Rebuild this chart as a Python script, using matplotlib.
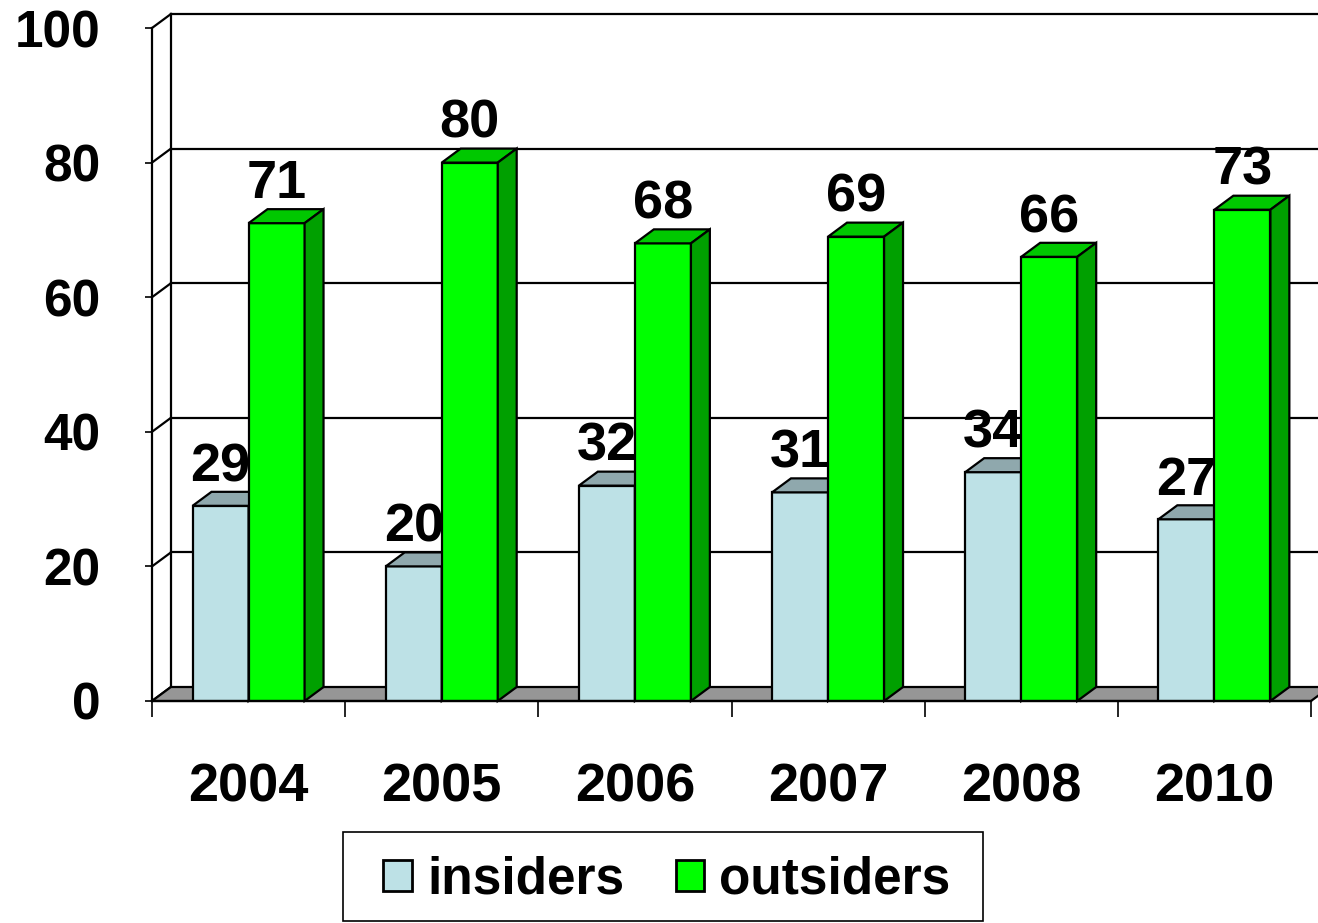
import numpy as np
import matplotlib
matplotlib.use("Agg")
import matplotlib.pyplot as plt
from matplotlib.patches import Polygon, Patch, Rectangle

# data
years = ["2004", "2005", "2006", "2007", "2008", "2010"]
insiders = [29, 20, 32, 31, 34, 27]
outsiders = [71, 80, 68, 69, 66, 73]
y_ticks = [0, 20, 40, 60, 80, 100]

# colours
ins_front, ins_top, ins_side = "#BDE1E6", "#8FA8AD", "#7F9A9E"
out_front, out_top, out_side = "#00FF00", "#00C800", "#00A000"
floor_col = "#969696"

plt.rcParams["font.family"] = ["Liberation Sans", "DejaVu Sans"]
plt.rcParams["font.weight"] = "bold"

fig = plt.figure(figsize=(13.18, 9.23), dpi=100)
ax = fig.add_axes([152 / 1318, 222 / 923, 1159 / 1318, 673 / 923])
ax.set_xlim(-0.5, 5.5)
ax.set_ylim(0, 100)

# depth of the 3d effect in data units
dx, dy = 0.098, 2.08
bw = 0.29
n = len(years)
lw = 1.6

# floor
ax.add_patch(Polygon([(-0.5, 0), (5.5, 0), (5.5 + dx, dy), (-0.5 + dx, dy)],
                     closed=True, facecolor=floor_col, edgecolor="black",
                     lw=lw, clip_on=False, zorder=1))

# back wall grid and left wall
for v in y_ticks[1:]:
    ax.plot([-0.5 + dx, 5.5 + dx + 0.2], [v + dy, v + dy], color="black",
            lw=lw, clip_on=False, zorder=0.5)
for v in y_ticks:
    ax.plot([-0.5, -0.5 + dx], [v, v + dy], color="black", lw=lw,
            clip_on=False, zorder=0.5)
ax.plot([-0.5 + dx, -0.5 + dx], [dy, 100 + dy], color="black", lw=lw,
        clip_on=False, zorder=0.5)


def bar3d(x0, h, front, top, side):
    ax.add_patch(Polygon([(x0, 0), (x0 + bw, 0), (x0 + bw, h), (x0, h)],
                         closed=True, facecolor=front, edgecolor="black",
                         lw=lw, zorder=3))
    ax.add_patch(Polygon([(x0, h), (x0 + bw, h), (x0 + bw + dx, h + dy),
                          (x0 + dx, h + dy)], closed=True, facecolor=top,
                         edgecolor="black", lw=lw, zorder=3, clip_on=False))
    ax.add_patch(Polygon([(x0 + bw, 0), (x0 + bw + dx, dy),
                          (x0 + bw + dx, h + dy), (x0 + bw, h)], closed=True,
                         facecolor=side, edgecolor="black", lw=lw, zorder=3,
                         clip_on=False))
    ax.text(x0 + bw / 2, h + dy + 1.6, str(h), ha="center", va="baseline",
            fontsize=39, fontweight="bold", zorder=4, clip_on=False)


for i in range(n):
    bar3d(i - bw, insiders[i], ins_front, ins_top, ins_side)
    bar3d(i, outsiders[i], out_front, out_top, out_side)

# axes
for s in ["top", "right"]:
    ax.spines[s].set_visible(False)
ax.spines["left"].set_linewidth(lw)
ax.spines["bottom"].set_linewidth(lw)
ax.spines["bottom"].set_zorder(5)

ax.set_yticks(y_ticks)
ax.set_yticklabels([str(v) for v in y_ticks])
ax.tick_params(axis="y", direction="out", length=5, width=1.2,
               labelsize=37, pad=32)
ax.set_xticks(range(n))
ax.set_xticklabels(years)
ax.set_xticks(np.arange(-0.5, n, 1.0), minor=True)
ax.tick_params(axis="x", which="major", length=0, labelsize=39, pad=44)
ax.tick_params(axis="x", which="minor", direction="out", length=11.5,
               width=1.2)
for lab in ax.get_xticklabels() + ax.get_yticklabels():
    lab.set_fontweight("bold")

# legend, with the frame drawn separately
handles = [Patch(facecolor=ins_front, edgecolor="black", lw=2, label="insiders"),
           Patch(facecolor=out_front, edgecolor="black", lw=2, label="outsiders")]
leg = fig.legend(handles=handles, loc="center", ncol=2, frameon=False,
                 bbox_to_anchor=(667 / 1318, 1 - 880 / 923),
                 prop={"size": 37, "weight": "bold"}, handlelength=0.55,
                 handleheight=0.55, handletextpad=0.3, columnspacing=1.0,
                 borderpad=0.3, borderaxespad=0)
fig.patches.append(Rectangle((343 / 1318, 2 / 923), 640 / 1318, 89 / 923,
                             transform=fig.transFigure, fill=False,
                             edgecolor="black", lw=1.2))

fig.savefig("out.png", dpi=100)
